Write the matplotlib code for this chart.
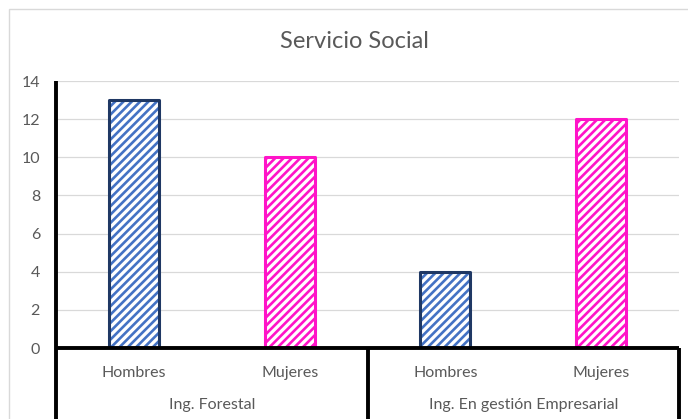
import matplotlib
matplotlib.use("Agg")
import matplotlib.pyplot as plt
from matplotlib.patches import Rectangle

title = "Servicio Social"
groups = ["Ing. Forestal", "Ing. En gestión Empresarial"]
subcats = ["Hombres", "Mujeres"]
values = [13, 10, 4, 12]          # Forestal H, M, Empresarial H, M
yticks = [0, 2, 4, 6, 8, 10, 12, 14]

hatch_colors = {"Hombres": "#4472C4", "Mujeres": "#FF14C8"}
edge_colors = {"Hombres": "#1F3864", "Mujeres": "#FF14C8"}
txt = "#595959"

plt.rcParams["font.family"] = ["Lato", "DejaVu Sans"]
plt.rcParams["hatch.linewidth"] = 1.9

fig = plt.figure(figsize=(6.88, 4.19), dpi=100)
fig.patch.set_facecolor("white")
# outer chart border (cropped at right/bottom)
fig.patches.append(Rectangle((9 / 688, -0.2), 1.5, 1.2 - 9 / 419,
                             transform=fig.transFigure, fill=False,
                             edgecolor="#D9D9D9", linewidth=1.0))

ax = fig.add_axes([56 / 688, 1 - 348 / 419, (679 - 56) / 688, (348 - 81) / 419])

labels = [s for g in groups for s in subcats]
xs = [i + 0.5 for i in range(len(values))]
width = 0.32
for x, v, lab in zip(xs, values, labels):
    ax.bar(x, v, width=width, color="white", edgecolor=hatch_colors[lab],
           hatch="////", linewidth=0, zorder=3)
    ax.bar(x, v, width=width, fill=False, edgecolor=edge_colors[lab],
           linewidth=2.2, joinstyle="round", zorder=4)

ax.set_xlim(0, len(values))
ax.set_ylim(0, 14)
ax.set_yticks(yticks)
ax.set_yticklabels([str(t) for t in yticks], color=txt, fontsize=11.5)
ax.tick_params(axis="y", length=0, pad=11.5)
ax.set_xticks([])
ax.yaxis.grid(True, color="#D9D9D9", linewidth=0.9, zorder=0)
ax.set_axisbelow(True)
for s in ax.spines.values():
    s.set_visible(False)

lw_axis = 2.8
xt = ax.get_xaxis_transform()
# bottom axis line
ax.plot([0, len(values)], [0, 0], color="black", lw=lw_axis, clip_on=False,
        transform=xt, zorder=5, solid_capstyle="butt")
# left axis line, extending through the category area
ax.plot([0, 0], [1, -0.3], color="black", lw=lw_axis, clip_on=False,
        transform=xt, zorder=5, solid_capstyle="butt")
# group separators
for gx in [2, 4]:
    ax.plot([gx, gx], [0, -0.3], color="black", lw=lw_axis, clip_on=False,
            transform=xt, zorder=5, solid_capstyle="butt")

for x, lab in zip(xs, labels):
    ax.annotate(lab, xy=(x, 0), xycoords=xt, xytext=(0, -18),
                textcoords="offset points", ha="center", va="center",
                color=txt, fontsize=11.5, annotation_clip=False)
for i, g in enumerate(groups):
    ax.annotate(g, xy=(i * 2 + 1, 0), xycoords=xt, xytext=(0, -41),
                textcoords="offset points", ha="center", va="center",
                color=txt, fontsize=11.5, annotation_clip=False)

fig.text(354 / 688, 1 - 41 / 419, title, ha="center", va="center",
         color=txt, fontsize=17)

fig.savefig("out.png", dpi=100)
